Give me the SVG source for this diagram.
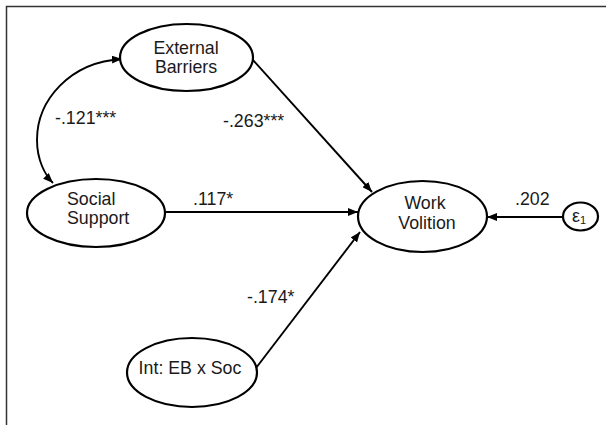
<svg xmlns="http://www.w3.org/2000/svg" width="607" height="425" viewBox="0 0 607 425">
<style>
.n{fill:#fff;stroke:#000;stroke-width:2.2}
.t{font-family:"Liberation Sans",Arial,sans-serif;font-size:17.8px;fill:#1a1a1a}
.c{fill:none;stroke:#000;stroke-width:1.9}
.l{font-family:"Liberation Sans",Arial,sans-serif;font-size:17.8px;fill:#1a1a1a}
</style>
<defs>
<marker id="ah" viewBox="0 0 10 8" refX="10" refY="4" markerWidth="10" markerHeight="8" markerUnits="userSpaceOnUse" orient="auto-start-reverse">
<path d="M0,0 L10,4 L0,8 Z" fill="#000"/>
</marker>
</defs>
<rect x="0" y="0" width="607" height="425" fill="#fff"/>
<path d="M6.5,425 V6.5 H606" fill="none" stroke="#333" stroke-width="1.5"/>
<g id="connectors">
<path class="c" d="M122,59 C70,62 37,100 37,140 C37,160 45,175 53,183" marker-start="url(#ah)" marker-end="url(#ah)"/>
<line class="c" x1="253" y1="60" x2="372" y2="192" marker-end="url(#ah)"/>
<line class="c" x1="165" y1="212" x2="358" y2="212" marker-end="url(#ah)"/>
<line class="c" x1="256" y1="368" x2="360" y2="232" marker-end="url(#ah)"/>
<line class="c" x1="563" y1="217" x2="487" y2="217" marker-end="url(#ah)"/>
<text class="l" x="55" y="124">-.121***</text>
<text class="l" x="223" y="127">-.263***</text>
<text class="l" x="193" y="205">.117*</text>
<text class="l" x="515" y="205">.202</text>
<text class="l" x="247" y="303">-.174*</text>
</g>
<g id="external-barriers">
<ellipse class="n" cx="186.5" cy="57.5" rx="66.5" ry="33.5"/>
<text class="t" x="186" y="54" text-anchor="middle">External</text>
<text class="t" x="186" y="73" text-anchor="middle">Barriers</text>
</g>
<g id="social-support">
<ellipse class="n" cx="96" cy="213" rx="69" ry="34"/>
<text class="t" x="67" y="205">Social</text>
<text class="t" x="67" y="224">Support</text>
</g>
<g id="work-volition">
<ellipse class="n" cx="422.5" cy="216.5" rx="64.5" ry="35.5"/>
<text class="t" x="425" y="209" text-anchor="middle">Work</text>
<text class="t" x="427" y="229" text-anchor="middle">Volition</text>
</g>
<g id="epsilon">
<ellipse class="n" cx="580.5" cy="216.5" rx="17.5" ry="14"/>
<text class="t" x="572" y="222">ε<tspan font-size="11" dy="2">1</tspan></text>
</g>
<g id="interaction">
<ellipse class="n" cx="192" cy="372.5" rx="65" ry="34.5"/>
<text class="t" x="190" y="374" text-anchor="middle">Int: EB x Soc</text>
</g>
</svg>
